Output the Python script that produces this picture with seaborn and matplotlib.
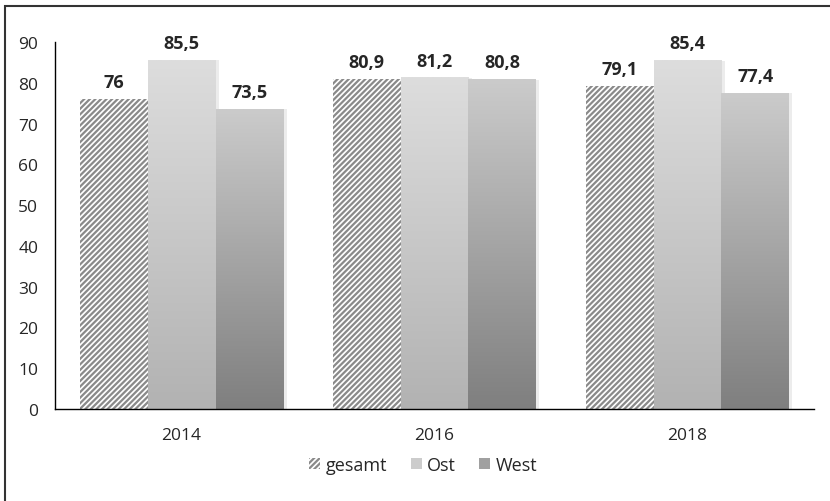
import numpy as np
import pandas as pd
import seaborn as sns
import matplotlib.pyplot as plt
from matplotlib.colors import LinearSegmentedColormap
from matplotlib.patches import Rectangle, Patch

sns.set_style("white")
plt.rcParams['font.family'] = ['Open Sans', 'DejaVu Sans']
plt.rcParams['hatch.color'] = '#8a8a8a'
plt.rcParams['hatch.linewidth'] = 1.6

# Daten
jahre = ['2014', '2016', '2018']
gruppen = ['gesamt', 'Ost', 'West']
gesamt = [76.0, 80.9, 79.1]
ost = [85.5, 81.2, 85.4]
west = [73.5, 80.8, 77.4]

df = pd.DataFrame({
    'Jahr': jahre * 3,
    'Gruppe': [g for g in gruppen for _ in jahre],
    'Wert': gesamt + ost + west,
})

fig = plt.figure(figsize=(8.3, 5.02), dpi=100)
ax = fig.add_axes([0.0663, 0.1833, 0.9144, 0.731])

sns.barplot(data=df, x='Jahr', y='Wert', hue='Gruppe', hue_order=gruppen,
            order=jahre, width=0.806, gap=0, ax=ax, legend=False,
            palette=['white', '#cccccc', '#a0a0a0'], errorbar=None,
            saturation=1)

# Farbverlaeufe (oben hell, unten dunkel)
verlauf = {
    'Ost': LinearSegmentedColormap.from_list('ost', ['#b2b2b2', '#dddddd']),
    'West': LinearSegmentedColormap.from_list('west', ['#7f7f7f', '#cbcbcb']),
}
grad = np.linspace(0, 1, 256).reshape(-1, 1)

for gruppe, cont in zip(gruppen, ax.containers):
    for bar in cont:
        x, w, h = bar.get_x(), bar.get_width(), bar.get_height()
        # leichter Schatten rechts
        ax.add_patch(Rectangle((x + w, 0), 0.012, h, color='#ececec', lw=0, zorder=1))
        if gruppe == 'gesamt':
            bar.set_facecolor('white')
            bar.set_hatch('//////')
            bar.set_edgecolor('#8a8a8a')
            bar.set_linewidth(0)
        else:
            ax.imshow(grad, extent=[x, x + w, 0, h], origin='lower', aspect='auto',
                      cmap=verlauf[gruppe], zorder=2)
            bar.set_facecolor('none')
            bar.set_linewidth(0)
    labels = [f'{v:.1f}'.replace('.', ',').replace(',0', '') for v in cont.datavalues]
    ax.bar_label(cont, labels=labels, padding=6, fontsize=13, fontweight='bold')

ax.set_xlim(-0.5, 2.5)
ax.set_ylim(0, 90)
ax.set_yticks(range(0, 91, 10))
ax.set_xticks([0, 1, 2])
ax.set_xticks([-0.5, 0.5, 1.5, 2.5], minor=True)
ax.tick_params(axis='x', which='major', length=0, pad=13, labelsize=12.5)
ax.tick_params(axis='x', which='minor', length=5, width=1, color='black', direction='out')
ax.tick_params(axis='y', length=5, width=1, color='black', direction='out', labelsize=12.5, pad=7)
ax.set_xlabel('')
ax.set_ylabel('')
sns.despine(ax=ax, top=True, right=True)
ax.spines['left'].set_color('black')
ax.spines['bottom'].set_color('black')
ax.spines['left'].set_linewidth(1)
ax.spines['bottom'].set_linewidth(1)

handles = [
    Patch(facecolor='white', hatch='//////', edgecolor='#8a8a8a', lw=0, label='gesamt'),
    Patch(facecolor='#cccccc', lw=0, label='Ost'),
    Patch(facecolor='#a0a0a0', lw=0, label='West'),
]
fig.legend(handles=handles, loc='center', bbox_to_anchor=(0.51, 0.072), ncol=3,
           frameon=False, fontsize=13, handlelength=0.6, handleheight=0.6,
           handletextpad=0.3, columnspacing=1.3)

# Rahmen
fig.patches.append(Rectangle((5 / 830, -0.1), 1.2, 1 - 7 / 502 + 0.1,
                             transform=fig.transFigure, fill=False,
                             lw=1.5, ec='#333333'))

fig.savefig('out.png', dpi=100)
